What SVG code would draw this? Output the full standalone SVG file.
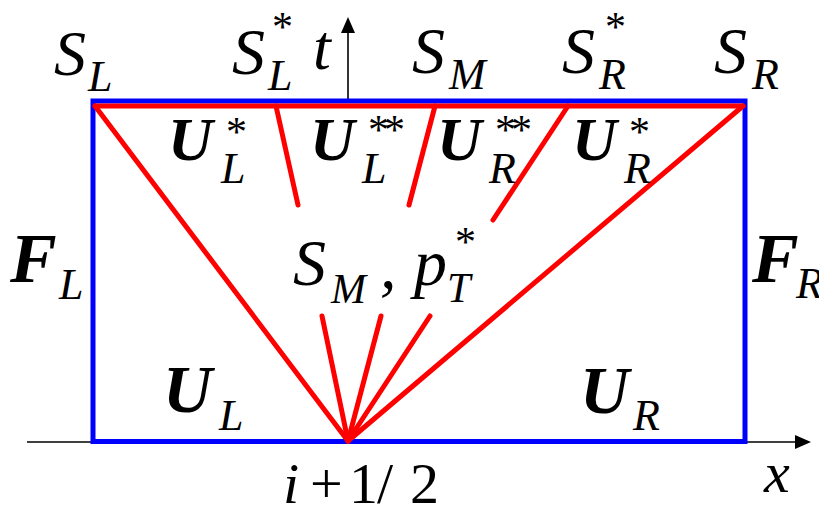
<svg xmlns="http://www.w3.org/2000/svg" width="819" height="506" viewBox="0 0 819 506">
<g id="connectors">
<g id="axes" stroke="#000" stroke-width="1.6" fill="none">
<line x1="27" y1="442" x2="796" y2="442"/>
<line x1="348" y1="101" x2="348" y2="32"/>
</g>
<g fill="#000" stroke="none">
<path d="M795,435 L811,442 L795,449 z"/>
<path d="M341,33 L348,17 L355,33 z"/>
</g>
<rect x="93" y="101" width="652" height="340.5" fill="none" stroke="#0000ff" stroke-width="5"/>
<g id="waves" stroke="#ff0000" stroke-width="5" fill="none" stroke-linecap="round">
<line x1="95" y1="106" x2="743" y2="106"/>
<line x1="95" y1="106" x2="348" y2="441"/>
<line x1="743" y1="106" x2="348" y2="441"/>
<line x1="276" y1="106" x2="298" y2="205"/>
<line x1="322" y1="316" x2="348" y2="441"/>
<line x1="435" y1="106" x2="409" y2="205"/>
<line x1="381" y1="316" x2="348" y2="441"/>
<line x1="568" y1="106" x2="493" y2="220"/>
<line x1="430" y1="316" x2="348" y2="441"/>
</g>
</g>
<g id="labels" fill="#000">
<g id="SL"><text style="font-family:'Liberation Serif';font-style:italic;font-size:64px" x="54" y="75">S</text><text style="font-family:'Liberation Serif';font-style:italic;font-size:44px" x="88" y="91">L</text></g>
<g id="SLstar"><text style="font-family:'Liberation Serif';font-style:italic;font-size:66px" x="232" y="74">S</text><text style="font-family:'Liberation Serif';font-style:italic;font-size:44px" x="268" y="90">L</text><text style="font-family:'Liberation Serif';font-size:42px" x="272" y="41">*</text></g>
<g id="tlabel"><text style="font-family:'Liberation Serif';font-style:italic;font-size:64px" x="313" y="69">t</text></g>
<g id="SM"><text style="font-family:'Liberation Serif';font-style:italic;font-size:66px" x="412" y="73">S</text><text style="font-family:'Liberation Serif';font-style:italic;font-size:44px" x="449" y="89">M</text></g>
<g id="SRstar"><text style="font-family:'Liberation Serif';font-style:italic;font-size:66px" x="562" y="73">S</text><text style="font-family:'Liberation Serif';font-style:italic;font-size:44px" x="599" y="89">R</text><text style="font-family:'Liberation Serif';font-size:42px" x="605" y="41">*</text></g>
<g id="SR"><text style="font-family:'Liberation Serif';font-style:italic;font-size:66px" x="714" y="73">S</text><text style="font-family:'Liberation Serif';font-style:italic;font-size:44px" x="752" y="89">R</text></g>
<g id="ULstar"><text style="font-family:'Liberation Serif';font-style:italic;font-weight:bold;font-size:62px" x="168" y="160">U</text><text style="font-family:'Liberation Serif';font-style:italic;font-size:44px" x="221" y="183">L</text><text style="font-family:'Liberation Serif';font-size:42px" x="226" y="146">*</text></g>
<g id="ULss"><text style="font-family:'Liberation Serif';font-style:italic;font-weight:bold;font-size:62px" x="310" y="160">U</text><text style="font-family:'Liberation Serif';font-style:italic;font-size:44px" x="362" y="183">L</text><text style="font-family:'Liberation Serif';font-size:42px;letter-spacing:-5px" x="368" y="144">**</text></g>
<g id="URss"><text style="font-family:'Liberation Serif';font-style:italic;font-weight:bold;font-size:62px" x="437" y="160">U</text><text style="font-family:'Liberation Serif';font-style:italic;font-size:44px" x="489" y="183">R</text><text style="font-family:'Liberation Serif';font-size:42px;letter-spacing:-5px" x="495" y="144">**</text></g>
<g id="URstar"><text style="font-family:'Liberation Serif';font-style:italic;font-weight:bold;font-size:62px" x="572" y="160">U</text><text style="font-family:'Liberation Serif';font-style:italic;font-size:44px" x="624" y="183">R</text><text style="font-family:'Liberation Serif';font-size:42px" x="629" y="146">*</text></g>
<g id="FL"><text style="font-family:'Liberation Serif';font-style:italic;font-weight:bold;font-size:70px" x="10" y="282">F</text><text style="font-family:'Liberation Serif';font-style:italic;font-size:44px" x="59" y="299">L</text></g>
<g id="FR"><text style="font-family:'Liberation Serif';font-style:italic;font-weight:bold;font-size:70px" x="752" y="282">F</text><text style="font-family:'Liberation Serif';font-style:italic;font-size:44px" x="796" y="298">R</text></g>
<g id="SMp"><text style="font-family:'Liberation Serif';font-style:italic;font-size:66px" x="293" y="285">S</text><text style="font-family:'Liberation Serif';font-style:italic;font-size:42px" x="331" y="303">M</text><text style="font-family:'Liberation Serif';font-style:italic;font-size:66px" x="380" y="288">,</text><text style="font-family:'Liberation Serif';font-style:italic;font-size:66px" x="414" y="285">p</text><text style="font-family:'Liberation Serif';font-style:italic;font-size:42px" x="447" y="302">T</text><text style="font-family:'Liberation Serif';font-size:42px" x="455" y="256">*</text></g>
<g id="UL"><text style="font-family:'Liberation Serif';font-style:italic;font-weight:bold;font-size:68px" x="163" y="412">U</text><text style="font-family:'Liberation Serif';font-style:italic;font-size:44px" x="219" y="430">L</text></g>
<g id="UR"><text style="font-family:'Liberation Serif';font-style:italic;font-weight:bold;font-size:68px" x="580" y="413">U</text><text style="font-family:'Liberation Serif';font-style:italic;font-size:44px" x="633" y="430">R</text></g>
<g id="ilabel"><text style="font-family:'Liberation Serif';font-size:58px" y="503"><tspan style="font-style:italic" x="283">i</tspan><tspan x="310">+</tspan><tspan x="349">1</tspan><tspan x="377">/</tspan><tspan x="410">2</tspan></text></g>
<g id="xlabel"><text style="font-family:'Liberation Serif';font-style:italic;font-size:58px" x="764" y="492">x</text></g>
</g>
</svg>
